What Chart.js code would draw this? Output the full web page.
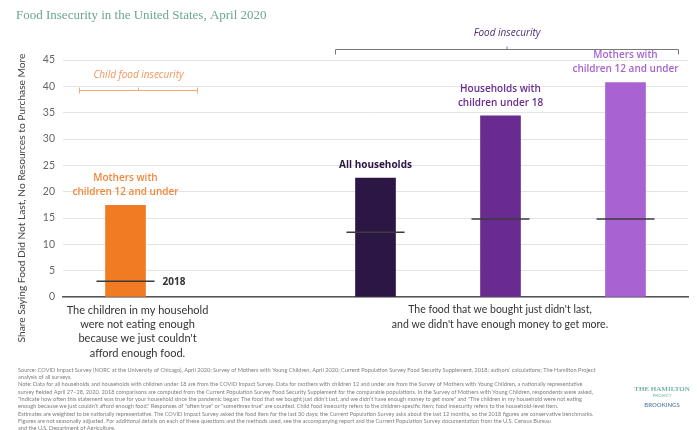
<!DOCTYPE html>
<html>
<head>
<meta charset="utf-8">
<script src="https://cdn.jsdelivr.net/npm/chart.js@4.4.1/dist/chart.umd.min.js"></script>
<style>
  html, body { margin: 0; padding: 0; background: #fff; }
  #wrap { width: 697px; height: 430px; }
</style>
</head>
<body>
<div id="wrap"><canvas id="chart" width="697" height="430"></canvas></div>
<script>
// --- data ---
const categories = ['Mothers with children 12 and under (children)', '', 'All households', 'Households with children under 18', 'Mothers with children 12 and under'];
const share2020 = [17.4, null, 22.6, 34.4, 40.7];
const share2018 = [3.0, null, 12.3, 14.8, 14.8];
const yTicks = [0, 5, 10, 15, 20, 25, 30, 35, 40, 45];
const barLabels = [['Mothers with', 'children 12 and under'], [], ['All households'], ['Households with', 'children under 18'], ['Mothers with', 'children 12 and under']];
const questionLeft = ['The children in my household', 'were not eating enough', "because we just couldn't", 'afford enough food.'];
const questionRight = ["The food that we bought just didn't last,", "and we didn't have enough money to get more."];

const titleText = 'Food Insecurity in the United States, April 2020';
const yTitle = 'Share Saying Food Did Not Last, No Resources to Purchase More';
const footnote = [
  'Source: COVID Impact Survey (NORC at the University of Chicago), April 2020; Survey of Mothers with Young Children, April 2020; Current Population Survey Food Security Supplement, 2018; authors\u2019 calculations; The Hamilton Project',
  'analysis of all surveys.',
  'Note: Data for all households and households with children under 18 are from the COVID Impact Survey. Data for mothers with children 12 and under are from the Survey of Mothers with Young Children, a nationally representative',
  'survey fielded April 27\u201328, 2020. 2018 comparisons are computed from the Current Population Survey Food Security Supplement for the comparable populations. In the Survey of Mothers with Young Children, respondents were asked,',
  '"Indicate how often this statement was true for your household since the pandemic began: The food that we bought just didn\u2019t last, and we didn\u2019t have enough money to get more" and "The children in my household were not eating',
  'enough because we just couldn\u2019t afford enough food." Responses of "often true" or "sometimes true" are counted. Child food insecurity refers to the children-specific item; food insecurity refers to the household-level item.',
  'Estimates are weighted to be nationally representative. The COVID Impact Survey asked the food item for the last 30 days; the Current Population Survey asks about the last 12 months, so the 2018 figures are conservative benchmarks.',
  'Figures are not seasonally adjusted. For additional details on each of these questions and the methods used, see the accompanying report and the Current Population Survey documentation from the U.S. Census Bureau',
  'and the U.S. Department of Agriculture.'
];

const barColors = ['#f07b22', '#2c1744', '#6a2b90', '#a862d1'];
const labelColors = ['#f2873a', '#2c1744', '#6a2b90', '#a862d1'];

// --- text and brackets drawn round the chart ---
const annotations = {
  id: 'annotations',
  afterDraw(chart) {
    const { ctx, scales: { x, y } } = chart;
    ctx.save();

    ctx.fillStyle = '#6ea596';
    ctx.font = '13px "Liberation Serif", serif';
    ctx.textAlign = 'left';
    ctx.textBaseline = 'middle';
    ctx.fillText(titleText, 16, 16);

    // y axis title
    ctx.save();
    ctx.translate(22, 198);
    ctx.rotate(-Math.PI / 2);
    ctx.fillStyle = '#444';
    ctx.font = '10.2px Lato, sans-serif';
    ctx.textAlign = 'center';
    ctx.fillText(yTitle, 0, 0);
    ctx.restore();

    // labels above bars
    let c = 0;
    categories.forEach((cat, i) => {
      if (share2020[i] == null) return;
      const cx = x.getPixelForValue(i);
      const top = y.getPixelForValue(share2020[i]);
      const lines = barLabels[i];
      ctx.fillStyle = labelColors[c];
      ctx.font = (i === 2 ? 'bold ' : '600 ') + '10px "Open Sans", sans-serif';
      ctx.textAlign = 'center';
      lines.forEach((ln, k) => {
        ctx.fillText(ln, cx, top - 13 - (lines.length - 1 - k) * 14);
      });
      c++;
    });

    // 2018 label
    const x0 = x.getPixelForValue(0);
    ctx.fillStyle = '#333';
    ctx.font = 'bold 10px "Open Sans", sans-serif';
    ctx.textAlign = 'left';
    ctx.fillText('2018', x0 + 37, y.getPixelForValue(share2018[0]) + 1);

    // brackets
    function bracket(x1, x2, yy, color, down) {
      const mid = (x1 + x2) / 2;
      ctx.strokeStyle = color;
      ctx.lineWidth = 1;
      ctx.beginPath();
      ctx.moveTo(x1, yy + (down ? 5 : 3));
      ctx.lineTo(x1, yy - (down ? 0 : 3));
      ctx.moveTo(x1, yy);
      ctx.lineTo(x2, yy);
      ctx.moveTo(x2, yy + (down ? 5 : 3));
      ctx.lineTo(x2, yy - (down ? 0 : 3));
      ctx.moveTo(mid, yy);
      ctx.lineTo(mid, yy - 3);
      ctx.stroke();
      return mid;
    }
    const cm = bracket(x0 - 46, x0 + 72, 90.5, '#f3a878', false);
    ctx.fillStyle = '#f2955a';
    ctx.font = 'italic 10px "Open Sans", sans-serif';
    ctx.textAlign = 'center';
    ctx.fillText('Child food insecurity', cm, 75);

    const fm = bracket(x.getPixelForValue(2) - 40, x.getPixelForValue(4) + 53, 49.5, '#777', true);
    ctx.fillStyle = '#4b3070';
    ctx.fillText('Food insecurity', fm, 33);

    // question captions under the axis
    ctx.fillStyle = '#333';
    ctx.font = '11px Lato, sans-serif';
    questionLeft.forEach((ln, k) => ctx.fillText(ln, x0 + 12, 310 + k * 14.4));
    ctx.font = '10.5px Lato, sans-serif';
    questionRight.forEach((ln, k) => ctx.fillText(ln, 500, 310 + k * 15));

    // footnote
    ctx.fillStyle = '#7e7e7e';
    ctx.font = '5.6px Lato, sans-serif';
    ctx.textAlign = 'left';
    footnote.forEach((ln, k) => ctx.fillText(ln, 18, 370 + k * 7.3));

    // logo
    ctx.textAlign = 'center';
    ctx.fillStyle = '#72b4a6';
    ctx.font = '600 7px "Liberation Serif", serif';
    ctx.fillText('THE HAMILTON', 662, 389);
    ctx.font = '4.5px Lato, sans-serif';
    ctx.fillText('PROJECT', 662, 396);
    ctx.fillStyle = '#5b80aa';
    ctx.font = '600 6px Lato, sans-serif';
    ctx.fillText('BROOKINGS', 662, 405);

    ctx.restore();
  }
};

new Chart(document.getElementById('chart'), {
  data: {
    labels: categories,
    datasets: [
      {
        type: 'line',
        label: '2018',
        data: share2018,
        showLine: false,
        pointStyle: 'line',
        pointRadius: 29,
        pointHoverRadius: 29,
        pointBorderWidth: 1.5,
        borderColor: '#3b3b3b',
        clip: false,
        order: 0
      },
      {
        type: 'bar',
        label: 'April 2020',
        data: share2020,
        backgroundColor: [barColors[0], 'rgba(0,0,0,0)', barColors[1], barColors[2], barColors[3]],
        barThickness: 40,
        order: 1
      }
    ]
  },
  options: {
    responsive: false,
    animation: false,
    layout: { autoPadding: false, padding: { left: 0, right: 9, top: 60, bottom: 133 } },
    plugins: { legend: { display: false }, tooltip: { enabled: false } },
    scales: {
      x: {
        ticks: { display: false },
        grid: { display: false, drawTicks: false },
        border: { color: '#555', width: 1.5 },
        afterFit(s) { s.height = 0; }
      },
      y: {
        min: 0,
        max: 45,
        afterBuildTicks(s) { s.ticks = yTicks.map(v => ({ value: v })); },
        afterFit(s) { s.width = 63; },
        ticks: { color: '#666', padding: 8, font: { family: 'Lato', size: 10.5 } },
        grid: { color: '#e4e4e4', drawTicks: false },
        border: { display: false }
      }
    }
  },
  plugins: [annotations]
});
</script>
</body>
</html>
